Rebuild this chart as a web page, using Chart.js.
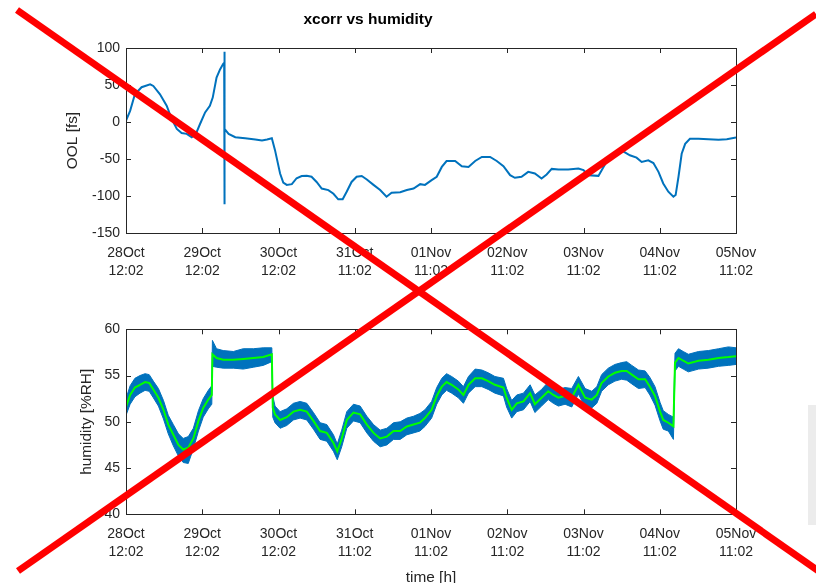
<!DOCTYPE html>
<html>
<head>
<meta charset="utf-8">
<script src="https://cdn.jsdelivr.net/npm/chart.js@4/dist/chart.umd.min.js"></script>
<style>
  html, body { margin: 0; padding: 0; background: #fff; overflow: hidden; }
  #wrap { position: relative; width: 816px; height: 583px; }
  #topChart { position: absolute; left: 0; top: 0; }
  #bottomChart { position: absolute; left: 0; top: 290px; }
  #cross { position: absolute; left: 0; top: 0; pointer-events: none; }
  #edge { position: absolute; left: 808px; top: 405px; width: 8px; height: 120px; background: #ececec; }
</style>
</head>
<body>
<div id="wrap">
  <canvas id="topChart" width="816" height="290"></canvas>
  <canvas id="bottomChart" width="816" height="300"></canvas>
  <div id="edge"></div>
  <svg id="cross" width="816" height="583">
    <line x1="17" y1="10" x2="820" y2="572" stroke="#ff0000" stroke-width="7"/>
    <line x1="18" y1="571" x2="816" y2="14" stroke="#ff0000" stroke-width="7"/>
  </svg>
</div>
<script>
// x axis: hours since 28Oct 12:02
var tickDays = ['28Oct', '29Oct', '30Oct', '31Oct', '01Nov', '02Nov', '03Nov', '04Nov', '05Nov'];
var tickTimes = ['12:02', '12:02', '12:02', '11:02', '11:02', '11:02', '11:02', '11:02', '11:02'];

// OOL [fs]
var oolHours = [0, 1.3, 2.8, 4.9, 7.6, 8.6, 10.7, 12.8, 14.4, 16,
  17.5, 19.1, 20.7, 22, 23.3, 24.9, 26.4, 27.3, 28.5, 29.6,
  30.6, 30.9, 31, 31, 31.05, 32.3, 34.4, 37.5, 40.7, 42.8,
  44.4, 45.9, 46.9, 48.5, 49.5, 50.6, 52.2, 53.7, 55.3, 56.9,
  58.4, 60, 61.6, 63.7, 65.3, 66.8, 68.2, 69.5, 71, 72.6,
  74.2, 75.8, 77.9, 80, 82, 83.6, 86.3, 88.4, 90.5, 92.6,
  94.1, 96.2, 97.8, 99.4, 100.9, 103.6, 105.7, 107.8, 109.9, 112,
  114.6, 116.7, 118.8, 120.9, 122.4, 124.5, 126.6, 128.7, 130.8, 132.4,
  134, 136.1, 139.2, 142.4, 144, 145.5, 148.7, 150.3, 151.8, 153.9,
  156.5, 158.6, 160.7, 162.3, 164.4, 166, 167.6, 169.1, 170.7, 172.3,
  173, 173.9, 174.9, 176, 177.5, 180.2, 183.3, 186.5, 189.1, 192];
var oolValues = [2, 15, 37.5, 47, 51, 48.7, 37.5, 22, 4, -9.4,
  -15, -16, -20.5, -16, -2.7, 13, 22, 33, 60, 71,
  78.6, 80, 95, -111, -9.4, -16, -20.5, -22, -23.6, -25,
  -23.6, -22, -38, -69.6, -82, -85, -84, -76, -73, -72.8,
  -74, -81, -90, -92, -97, -104.5, -104.5, -94, -81, -74,
  -73, -77.7, -85, -92, -101, -95.5, -95, -92, -90, -84,
  -85, -78.6, -74, -60.7, -52.7, -52.7, -59.8, -60.7, -52.7, -47.3,
  -47.3, -52.7, -59.8, -71.9, -75.4, -74, -67.4, -69.6, -76.3, -71,
  -63.4, -64.3, -64.3, -63, -65, -71.9, -72.8, -60.7, -49.5, -42.9,
  -39.7, -45, -48.2, -54, -51.8, -55.4, -67.4, -83, -94.2, -100.9,
  -98.7, -74, -42.9, -29.5, -22.8, -22.8, -23.2, -24.1, -23.2, -21];

// humidity [%RH]
var humHours = [0, 1.3, 2.8, 4.4, 6, 7.3, 8.6, 10.2, 11.8, 13.3,
  14.9, 16.5, 18, 19.6, 21.2, 22.8, 24.3, 25.9, 27, 27.2,
  28.5, 30.6, 33.8, 36.9, 40.1, 43.2, 45.9, 46.2, 46.9, 48.5,
  50.6, 52.7, 54.8, 56.9, 59, 61.1, 63.2, 65.3, 66.5, 67.9,
  69.5, 71.6, 73.7, 75.8, 77.9, 80, 82.1, 84.2, 86.3, 88.4,
  90.5, 92.5, 94.1, 96.2, 97.8, 99.4, 100.9, 102.5, 104.6, 106.2,
  107.8, 109.9, 112, 114, 116.1, 118.8, 119.8, 121.4, 123, 125.1,
  127.2, 128.7, 130.8, 132.9, 134.5, 136.1, 138.2, 140.3, 142.4, 144.5,
  146.6, 148.2, 149.7, 151.8, 153.9, 156, 157.6, 159.2, 161.3, 163.4,
  164.9, 166.5, 168.1, 169.1, 170.7, 172.3, 172.8, 173.9, 175.4, 177,
  180.2, 183.3, 186.5, 189.6, 192];
var humSmooth = [51.6, 52.9, 53.7, 54.0, 54.3, 54.2, 53.5, 52.6, 51.3, 49.7,
  48.6, 47.5, 47.0, 47.2, 48.2, 50.1, 51.5, 52.4, 52.9, 57.3,
  56.9, 56.7, 56.7, 56.8, 56.9, 57.0, 57.3, 51.5, 50.8, 50.2,
  50.5, 51.1, 51.3, 51.1, 50.1, 49.0, 48.8, 47.7, 46.8, 48.2,
  50.2, 51.0, 50.8, 49.7, 48.8, 48.2, 48.4, 49.0, 49.0, 49.5,
  49.7, 49.9, 50.4, 51.3, 52.8, 53.8, 54.3, 54.0, 53.5, 52.9,
  54.0, 54.7, 54.7, 54.4, 54.0, 53.7, 52.6, 51.3, 52.0, 52.2,
  53.1, 51.9, 52.6, 53.3, 52.9, 52.6, 52.8, 52.6, 54.0, 52.6,
  52.4, 52.9, 54.2, 54.9, 55.3, 55.5, 55.5, 55.1, 54.6, 54.6,
  53.8, 52.8, 51.1, 50.2, 49.9, 49.5, 56.4, 56.9, 56.6, 56.3,
  56.6, 56.7, 56.9, 57.0, 57.1];
var humRawHigh = [52.5, 53.9, 54.7, 55.0, 55.2, 55.1, 54.4, 53.6, 52.3, 50.7,
  49.7, 48.7, 48.2, 48.4, 49.3, 51.2, 52.5, 53.4, 53.9, 58.8,
  57.9, 57.7, 57.6, 57.9, 57.9, 58.0, 58.0, 52.8, 51.7, 51.1,
  51.4, 52.0, 52.2, 52.0, 51.0, 49.9, 49.7, 48.6, 47.6, 49.1,
  51.1, 51.9, 51.7, 50.6, 49.7, 49.1, 49.3, 49.9, 50.0, 50.4,
  50.6, 50.9, 51.3, 52.2, 53.7, 54.7, 55.2, 54.9, 54.4, 53.8,
  54.9, 55.7, 55.6, 55.3, 54.9, 54.7, 53.6, 52.3, 52.9, 53.1,
  54.0, 52.9, 53.5, 54.3, 53.8, 53.5, 53.7, 53.6, 54.9, 53.6,
  53.3, 53.8, 55.1, 55.8, 56.2, 56.4, 56.5, 56.1, 55.6, 55.5,
  54.8, 53.8, 52.1, 51.2, 50.8, 50.5, 57.4, 57.9, 57.6, 57.3,
  57.6, 57.7, 57.9, 58.1, 58.0];
var humRawLow = [50.7, 51.9, 52.7, 53.1, 53.4, 53.3, 52.6, 51.7, 50.3, 48.7,
  47.4, 46.3, 45.6, 45.5, 47.1, 49.0, 50.5, 51.4, 51.9, 56.0,
  55.9, 55.8, 55.8, 55.7, 55.9, 56.1, 56.5, 50.5, 49.9, 49.3,
  49.6, 50.2, 50.4, 50.2, 49.2, 48.1, 47.9, 46.8, 45.9, 47.3,
  49.3, 50.1, 49.9, 48.8, 47.9, 47.3, 47.5, 48.1, 48.1, 48.6,
  48.8, 49.0, 49.5, 50.4, 51.9, 52.9, 53.4, 53.1, 52.6, 52.0,
  53.1, 53.8, 53.8, 53.5, 53.1, 52.8, 51.6, 50.4, 51.1, 51.3,
  52.2, 51.0, 51.7, 52.4, 52.0, 51.7, 51.9, 51.6, 53.0, 51.6,
  51.5, 52.0, 53.3, 54.0, 54.4, 54.6, 54.5, 54.1, 53.6, 53.7,
  52.9, 51.8, 50.1, 49.2, 49.0, 48.1, 55.5, 56.0, 55.7, 55.4,
  55.7, 55.8, 56.0, 56.1, 56.2];

var AXIS = '#262626';
var BLUE = '#0072BD';
var GREEN = '#00FF00';

Chart.defaults.font.family = '"Liberation Sans", Arial, Helvetica, sans-serif';
Chart.defaults.color = AXIS;

function pts(xs, ys) {
    return xs.map(function (h, i) { return { x: h, y: ys[i] }; });
}

// MATLAB style box with inward ticks on all four sides
var boxTicks = {
    id: 'boxTicks',
    afterDraw: function (chart) {
        var ctx = chart.ctx, a = chart.chartArea;
        var xs = chart.scales.x, ys = chart.scales.y;
        var L = 5;
        ctx.save();
        ctx.strokeStyle = AXIS;
        ctx.lineWidth = 1;
        ctx.beginPath();
        xs.ticks.forEach(function (t) {
            var p = Math.round(xs.getPixelForValue(t.value)) + 0.5;
            ctx.moveTo(p, a.bottom); ctx.lineTo(p, a.bottom - L);
            ctx.moveTo(p, a.top); ctx.lineTo(p, a.top + L);
        });
        ys.ticks.forEach(function (t) {
            var p = Math.round(ys.getPixelForValue(t.value)) + 0.5;
            ctx.moveTo(a.left, p); ctx.lineTo(a.left + L, p);
            ctx.moveTo(a.right, p); ctx.lineTo(a.right - L, p);
        });
        ctx.stroke();
        ctx.strokeRect(Math.round(a.left) + 0.5, Math.round(a.top) + 0.5,
            Math.round(a.right - a.left), Math.round(a.bottom - a.top));
        ctx.restore();
    }
};

function xAxis(height, titleText) {
    return {
        type: 'linear',
        min: 0,
        max: 192,
        afterFit: function (s) { s.height = height; },
        grid: { display: false, drawTicks: false },
        border: { display: false },
        ticks: {
            stepSize: 24,
            autoSkip: false,
            maxRotation: 0,
            minRotation: 0,
            padding: 11,
            font: { size: 14, lineHeight: 1.27 },
            callback: function (v) {
                var i = Math.round(v / 24);
                return [tickDays[i], tickTimes[i]];
            }
        },
        title: {
            display: !!titleText,
            text: titleText || '',
            font: { size: 15.4 },
            padding: { top: 0, bottom: 3 }
        }
    };
}

function yAxis(min, max, step, label, titlePad) {
    return {
        min: min,
        max: max,
        afterFit: function (s) { s.width = 126; },
        grid: { display: false, drawTicks: false },
        border: { display: false },
        ticks: { stepSize: step, padding: 6, font: { size: 14 } },
        title: {
            display: true,
            text: label,
            font: { size: 15.4 },
            padding: { top: titlePad, bottom: 0 }
        }
    };
}

new Chart(document.getElementById('topChart').getContext('2d'), {
    type: 'line',
    data: {
        datasets: [
            {
                label: 'OOL',
                data: pts(oolHours, oolValues),
                borderColor: BLUE,
                borderWidth: 2,
                pointRadius: 0,
                tension: 0,
                fill: false
            }
        ]
    },
    options: {
        responsive: false,
        animation: false,
        parsing: true,
        layout: { padding: { left: 0, right: 80, top: 0, bottom: 0 } },
        plugins: {
            legend: { display: false },
            tooltip: { enabled: false },
            title: {
                display: true,
                text: 'xcorr vs humidity',
                color: '#000000',
                font: { size: 15.5, weight: 'bold' },
                padding: { top: 10, bottom: 19.4 }
            }
        },
        scales: {
            x: xAxis(57, ''),
            y: yAxis(-150, 100, 50, 'OOL [fs]', 63.4)
        }
    },
    plugins: [boxTicks]
});

new Chart(document.getElementById('bottomChart').getContext('2d'), {
    type: 'line',
    data: {
        datasets: [
            {
                label: 'smoothed',
                data: pts(humHours, humSmooth),
                borderColor: GREEN,
                borderWidth: 2,
                pointRadius: 0,
                tension: 0,
                fill: false
            },
            {
                label: 'raw high',
                data: pts(humHours, humRawHigh),
                borderColor: BLUE,
                backgroundColor: BLUE,
                borderWidth: 1,
                pointRadius: 0,
                tension: 0,
                fill: '+1'
            },
            {
                label: 'raw low',
                data: pts(humHours, humRawLow),
                borderColor: BLUE,
                borderWidth: 1,
                pointRadius: 0,
                tension: 0,
                fill: false
            }
        ]
    },
    options: {
        responsive: false,
        animation: false,
        layout: { padding: { left: 0, right: 80, top: 39.3, bottom: 0 } },
        plugins: {
            legend: { display: false },
            tooltip: { enabled: false }
        },
        scales: {
            x: xAxis(75.7, 'time [h]'),
            y: yAxis(40, 60, 5, 'humidity [%RH]', 77.4)
        }
    },
    plugins: [boxTicks]
});
</script>
</body>
</html>
